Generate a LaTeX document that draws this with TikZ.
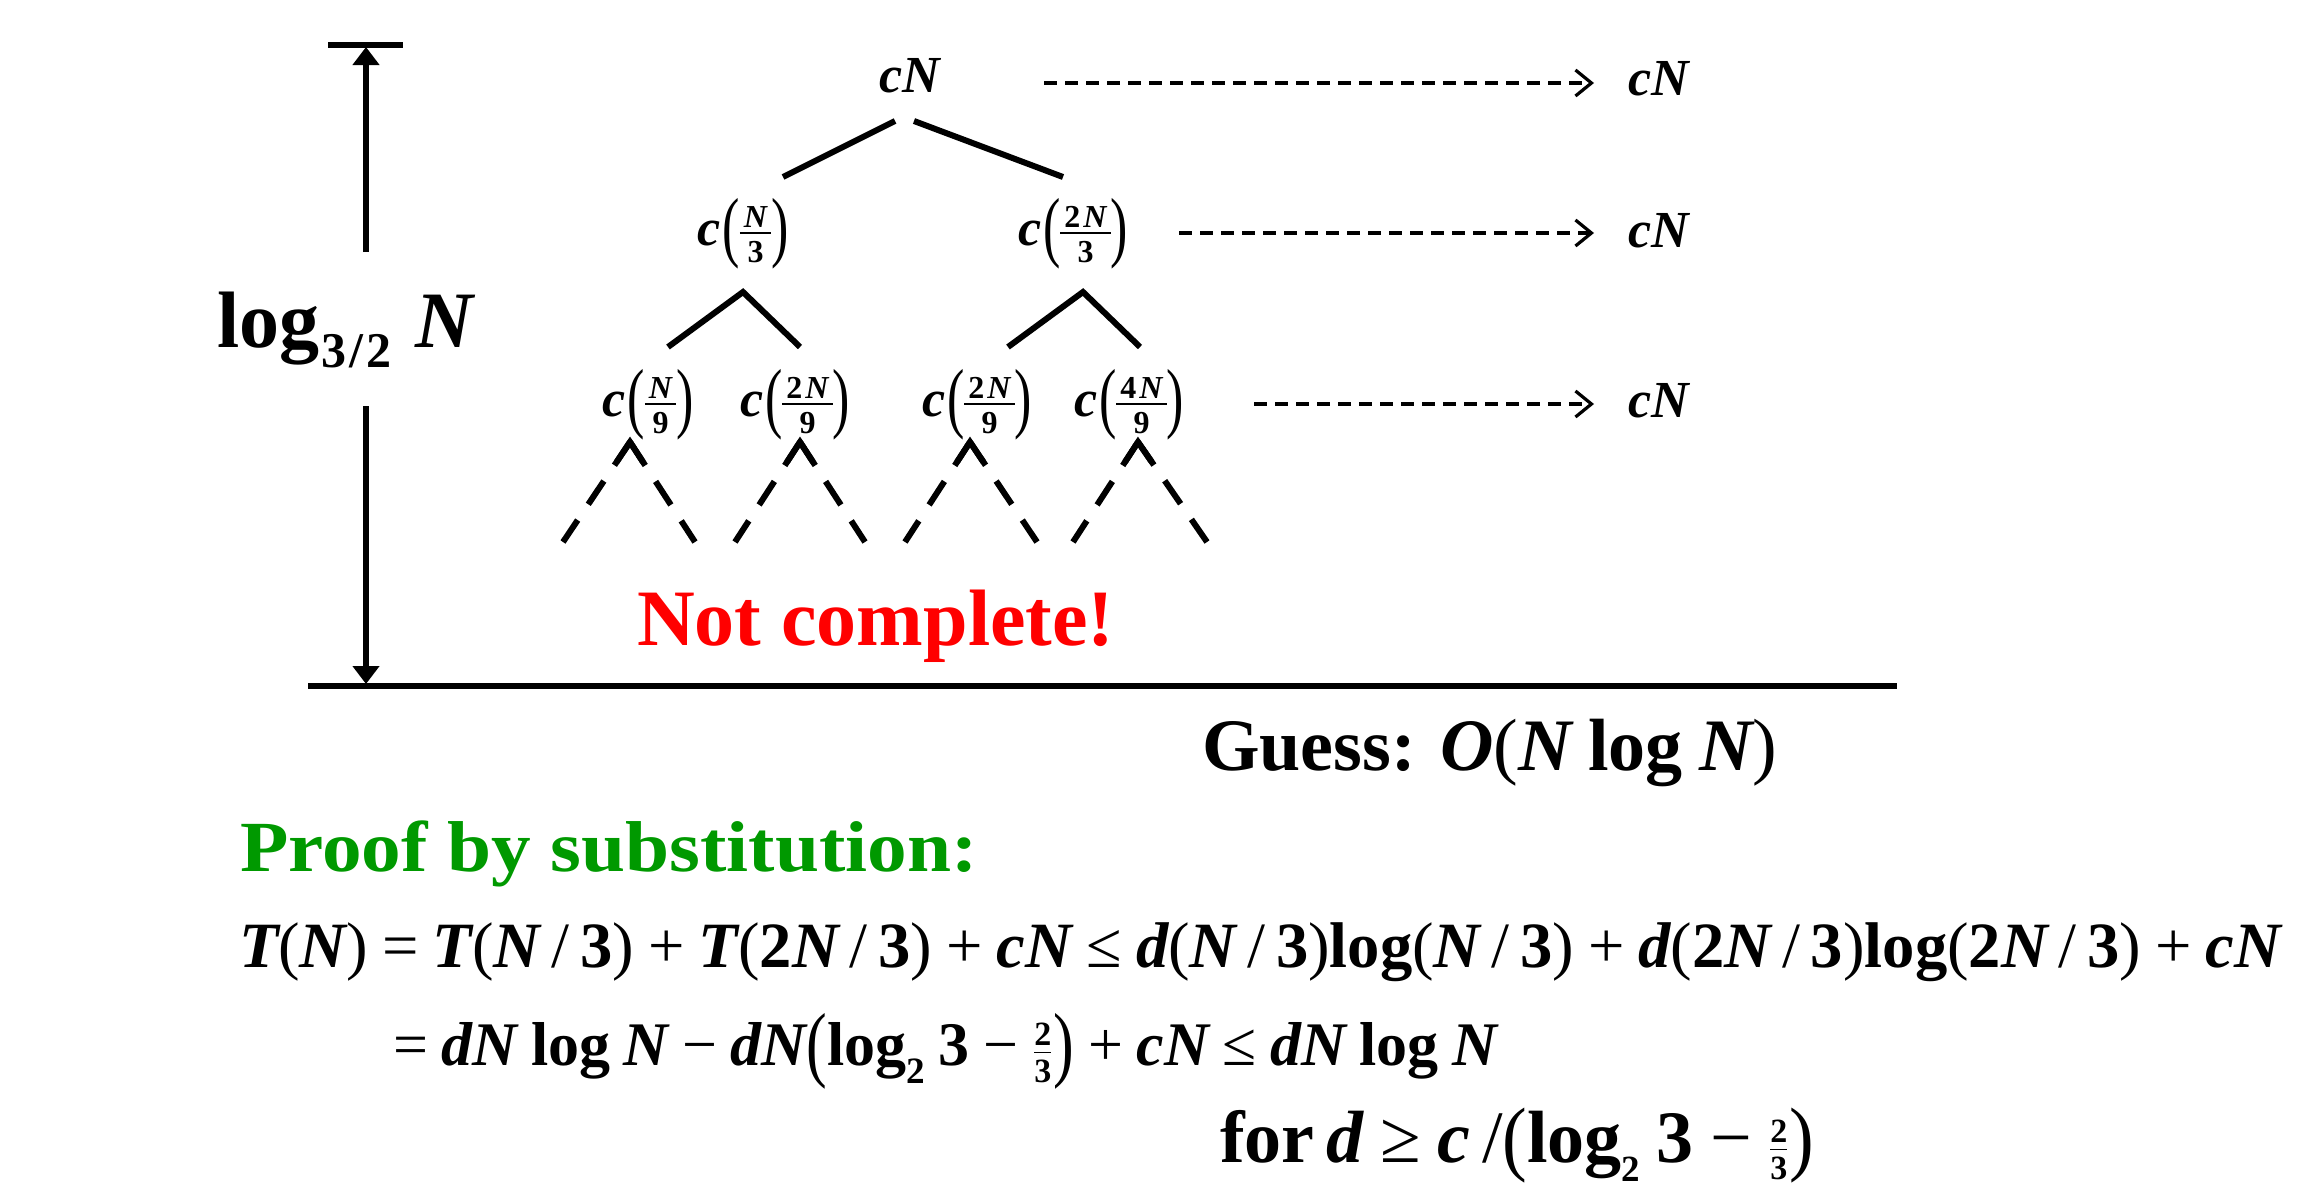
\documentclass[tikz,border=0pt]{standalone}
\usepackage{amsmath}
\usepackage{fontspec}
\setmainfont{Liberation Serif}
\usetikzlibrary{arrows.meta,calc}
\definecolor{pgreen}{RGB}{0,153,0}
\newcommand\bi[1]{{\bfseries\itshape #1}}
\newcommand\bu[1]{{\bfseries #1}}
\newcommand\ms{\hspace{0.22em}}
% tall parenthesis for tree nodes (font 26pt)
\newcommand\bpar[1]{\raisebox{-3.5pt}{\scalebox{1}[1.5]{#1}}}
\newcommand\nfr[2]{$\vcenter{\offinterlineskip\fontsize{16}{18}\selectfont\bfseries
  \halign{\hfil\kern2pt##\kern2pt\hfil\cr\rule{0pt}{11.5pt}#1\cr
  \noalign{\kern2.5pt\hrule height 0.9pt\kern2.5pt}\rule{0pt}{11.5pt}#2\cr}}$}
\newcommand\cfr[2]{\bi{c}\kern1pt\bpar{(}\nfr{#1}{#2}\bpar{)}}
% equation parentheses and fraction
\newcommand\epar[1]{\raisebox{-0.1em}{\scalebox{1}[1.35]{#1}}}
\newcommand\eparb[1]{\raisebox{-0.05em}{\scalebox{1}[1.12]{#1}}}
\newcommand\fr[2]{$\genfrac{}{}{0.7pt}{1}{\text{\fontsize{17}{19}\selectfont\bfseries #1}}{\text{\fontsize{17}{19}\selectfont\bfseries #2}}$}
\newcommand\lsub[1]{\raisebox{-0.3em}{\scalebox{0.6}{\bfseries #1}}}
\newcommand\lsubb[1]{\raisebox{-0.26em}{\scalebox{0.5}{\bfseries #1}}}
\begin{document}
\begin{tikzpicture}[x=0.5pt,y=-0.5pt,
  every node/.style={inner sep=0pt, outer sep=0pt},
  tn/.style={font=\fontsize{26}{31}\selectfont},
  tline/.style={line width=3pt, line join=miter},
  tdash/.style={line width=3pt, dash pattern=on 14pt off 9.5pt},
  darr/.style={line width=1.6pt, dash pattern=on 6.5pt off 4pt, -{Straight Barb[length=8pt,width=13pt,line width=1.6pt]}},
  varr/.style={line width=2.8pt, -{Triangle[length=9pt,width=13pt]}},
  rulel/.style={line width=2.8pt},
  eq/.style={font=\fontsize{32.3}{38}\selectfont, anchor=base west},
]
\useasboundingbox (0,0) rectangle (2297,1189);
% axis
\coordinate (bt1) at (328,45); \coordinate (bt2) at (403,45);
\coordinate (bl) at (308,686); \coordinate (br) at (1897,686);
\coordinate (au1) at (366,252); \coordinate (au2) at (366,47);
\coordinate (ad1) at (366,406); \coordinate (ad2) at (366,684);
\draw[rulel] (bt1) -- (bt2);
\draw[rulel] (bl) -- (br);
\draw[varr] (au1) -- (au2);
\draw[varr] (ad1) -- (ad2);
\node[anchor=base west, font=\fontsize{40}{48}\selectfont] (lg) at (217,347)
  {\bu{log}\raisebox{-0.25em}{\fontsize{25}{30}\selectfont\bfseries \kern1pt3\kern1.5pt/\kern1.5pt2}\hspace{0.3em}\bi{N}};
% tree nodes
\node[tn] (root) at (910,76) {\bi{cN}};
\node[tn] (n1) at (743,234) {\cfr{\bi{N}}{3}};
\node[tn] (n2) at (1073,234) {\cfr{2\kern1.5pt\bi{N}}{3}};
\node[tn] (m1) at (648,405) {\cfr{\bi{N}}{9}};
\node[tn] (m2) at (795,405) {\cfr{2\kern1.5pt\bi{N}}{9}};
\node[tn] (m3) at (977,405) {\cfr{2\kern1.5pt\bi{N}}{9}};
\node[tn] (m4) at (1129,405) {\cfr{4\kern1.5pt\bi{N}}{9}};
% tree lines
\coordinate (r1) at (895,121); \coordinate (r1e) at (783,177);
\coordinate (r2) at (914,121); \coordinate (r2e) at (1063,177);
\draw[tline] (r1) -- (r1e);
\draw[tline] (r2) -- (r2e);
\coordinate (p1) at (743,292); \coordinate (p1l) at (668,347); \coordinate (p1r) at (800,347);
\coordinate (p2) at (1083,292); \coordinate (p2l) at (1008,347); \coordinate (p2r) at (1140,347);
\draw[tline] (p1l) -- (p1) -- (p1r);
\draw[tline] (p2l) -- (p2) -- (p2r);
\foreach \ax/\lx/\rx [count=\i] in {630/563/695, 800/735/865, 970/905/1037, 1138/1073/1207}{
  \coordinate (q\i) at (\ax,442);
  \coordinate (q\i l) at (\lx,542);
  \coordinate (q\i r) at (\rx,542);
  \draw[tdash] (q\i) -- (q\i l);
  \draw[tdash] (q\i) -- (q\i r);
  \draw[tline] ($(q\i)!0.2!(q\i l)$) -- (q\i) -- ($(q\i)!0.2!(q\i r)$);
}
% level sums
\node[tn, anchor=base west] (s0) at (1628,95) {\bi{cN}};
\node[tn, anchor=base west] (s1) at (1628,247) {\bi{cN}};
\node[tn, anchor=base west] (s2) at (1628,417) {\bi{cN}};
\coordinate (d0) at (1044,83); \coordinate (d1) at (1179,233); \coordinate (d2) at (1254,404);
\draw[darr, shorten >=17pt] (d0) -- (d0 -| s0.west);
\draw[darr, shorten >=17pt] (d1) -- (d1 -| s1.west);
\draw[darr, shorten >=17pt] (d2) -- (d2 -| s2.west);
% texts
\node[anchor=base west, text=red, font=\fontsize{40}{48}\selectfont\bfseries] (nc) at (637,645) {Not complete!};
\node[anchor=base west, font=\fontsize{37}{44}\selectfont] (gs) at (1202,770) {\bu{Guess:} \bi{O}(\bi{N}\ms\bu{log}\ms\bi{N})};
\node[anchor=base west, text=pgreen, font=\fontsize{36}{44}\selectfont\bfseries] (pf) at (240,871) {\scalebox{1.1}[1]{Proof by substitution:}};
\node[eq] (e1) at (239,967) {\bi{T}(\bi{N})\ms=\ms\bi{T}(\bi{N}\,/\,\bu{3})\ms+\ms\bi{T}(\bu{2}\bi{N}\,/\,\bu{3})\ms+\ms\bi{cN}\ms≤\ms\bi{d}(\bi{N}\,/\,\bu{3})\bu{log}(\bi{N}\,/\,\bu{3})\ms+\ms\bi{d}(\bu{2}\bi{N}\,/\,\bu{3})\bu{log}(\bu{2}\bi{N}\,/\,\bu{3})\ms+\ms\bi{cN}};
\node[eq, font=\fontsize{31}{37}\selectfont] (e2) at (393,1065) {=\ms\bi{dN}\ms\bu{log}\ms\bi{N}\ms−\ms\bi{dN}\epar{(}\bu{log}\lsub{2}\ms\bu{3}\ms−\ms\fr{2}{3}\epar{)}\ms+\ms\bi{cN}\ms≤\ms\bi{dN}\ms\bu{log}\ms\bi{N}};
\node[eq, font=\fontsize{37}{44}\selectfont] (e3) at (1220,1162) {\bu{for}\,\bi{d}\ms≥\ms\bi{c}\,/\eparb{(}\bu{log}\lsubb{2}\ms\bu{3}\ms−\ms\fr{2}{3}\eparb{)}};
\end{tikzpicture}
\end{document}
